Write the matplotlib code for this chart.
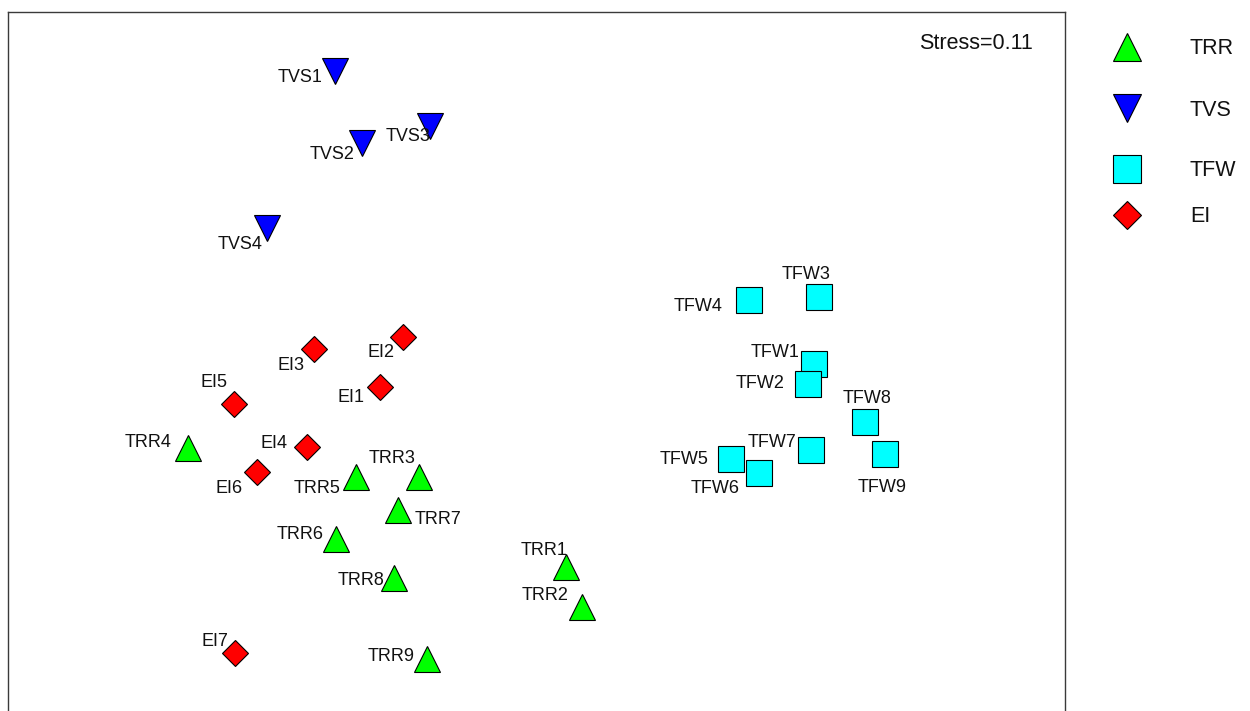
import matplotlib
matplotlib.use("Agg")
import matplotlib.pyplot as plt

plt.rcParams["font.family"] = ["Liberation Sans", "DejaVu Sans"]

# NMDS ordination scores for each group
trr_names = ["TRR1", "TRR2", "TRR3", "TRR4", "TRR5", "TRR6", "TRR7", "TRR8", "TRR9"]
trr_x = [0.086, 0.140, -0.402, -1.172, -0.613, -0.681, -0.472, -0.487, -0.377]
trr_y = [-0.556, -0.691, -0.256, -0.160, -0.256, -0.464, -0.366, -0.594, -0.864]

tvs_names = ["TVS1", "TVS2", "TVS3", "TVS4"]
tvs_x = [-0.683, -0.593, -0.368, -0.910]
tvs_y = [1.097, 0.857, 0.912, 0.572]

tfw_names = ["TFW1", "TFW2", "TFW3", "TFW4", "TFW5", "TFW6", "TFW7", "TFW8", "TFW9"]
tfw_x = [0.913, 0.893, 0.930, 0.697, 0.637, 0.730, 0.903, 1.083, 1.150]
tfw_y = [0.120, 0.053, 0.343, 0.333, -0.197, -0.243, -0.167, -0.073, -0.180]

ei_names = ["EI1", "EI2", "EI3", "EI4", "EI5", "EI6", "EI7"]
ei_x = [-0.534, -0.458, -0.754, -0.778, -1.019, -0.944, -1.016]
ei_y = [0.044, 0.210, 0.170, -0.156, -0.014, -0.239, -0.843]

stress = 0.11

# Label placement: (horizontal alignment, dx px, dy px downward to cap centre)
trr_lab = [("right", 1.6, -18.4), ("right", -13.7, -14), ("right", -4.3, -20.7),
           ("right", -16.8, -7), ("right", -15.3, 9.3), ("right", -11.7, -6.7),
           ("left", 16.7, 7.3), ("right", -9, 0), ("right", -12, -4.3)]
tvs_lab = [("right", -13, 5), ("right", -8, 10), ("right", 0.5, 8.5), ("right", -5, 14)]
tfw_lab = [("right", -14.7, -13.7), ("right", -23, -2.3), ("right", 11.7, -24.3),
           ("right", -26.3, 4.7), ("right", -22.7, -1.7), ("right", -19.7, 13.3),
           ("right", -14.3, -9.7), ("right", 26.7, -25.3), ("right", 21.7, 32)]
ei_lab = [("right", -15.7, 8.3), ("right", -7.7, 13.7), ("right", -9.7, 15),
          ("right", -18.7, -5.7), ("right", -7.3, -23.3), ("right", -13.7, 15.3),
          ("right", -7.3, -13.3)]

groups = [
    ("TRR", trr_names, trr_x, trr_y, trr_lab, "^", "#00ff00", 19.4),
    ("TVS", tvs_names, tvs_x, tvs_y, tvs_lab, "v", "#0000ff", 19.4),
    ("TFW", tfw_names, tfw_x, tfw_y, tfw_lab, "s", "#00ffff", 19.0),
    ("EI", ei_names, ei_x, ei_y, ei_lab, "D", "#ff0000", 13.7),
]

PX = 0.72  # points per pixel at 100 dpi
LABEL_SIZE = 13
CAP_HALF = 0.716 * LABEL_SIZE / PX / 2  # half cap height in px

fig = plt.figure(figsize=(12.5, 7.11), dpi=100)
ax = fig.add_axes([7.5 / 1250, 1 - 740 / 711, 1057 / 1250, 728 / 711])
ax.set_xlim(-1.775, 1.7483)
ax.set_ylim(-1.1333, 1.2933)
ax.set_xticks([])
ax.set_yticks([])
for sp in ax.spines.values():
    sp.set_color("#3a3a3a")
    sp.set_linewidth(1.0)

for gname, names, xs, ys, labs, mk, col, ms in groups:
    ax.plot(xs, ys, linestyle="none", marker=mk, markersize=ms,
            markerfacecolor=col, markeredgecolor="black", markeredgewidth=0.8,
            zorder=3)
    for n, x, y, (ha, dx, dy) in zip(names, xs, ys, labs):
        ax.annotate(n, xy=(x, y), xytext=(dx * PX, -(dy + CAP_HALF) * PX),
                    textcoords="offset points", ha=ha, va="baseline",
                    fontsize=LABEL_SIZE, color="#111111", zorder=4)

ax.annotate(f"Stress={stress:.2f}", xy=(1, 1), xycoords="axes fraction",
            xytext=(-22.5, -22.5), textcoords="offset points",
            ha="right", va="center", fontsize=15.5, color="#111111")

# Legend drawn on an overlay in figure pixel space
lax = fig.add_axes([0, 0, 1, 1])
lax.set_xlim(0, 1250)
lax.set_ylim(711, 0)
lax.axis("off")
leg_y = [47, 108, 169, 215]
for (gname, names, xs, ys, labs, mk, col, ms), yy in zip(groups, leg_y):
    lax.plot([1127], [yy], linestyle="none", marker=mk, markersize=ms + 0.5,
             markerfacecolor=col, markeredgecolor="black", markeredgewidth=0.8)
    lax.text(1190, yy + 2, gname, ha="left", va="center", fontsize=15.5,
             color="#111111")

fig.savefig("out.png", dpi=100)
